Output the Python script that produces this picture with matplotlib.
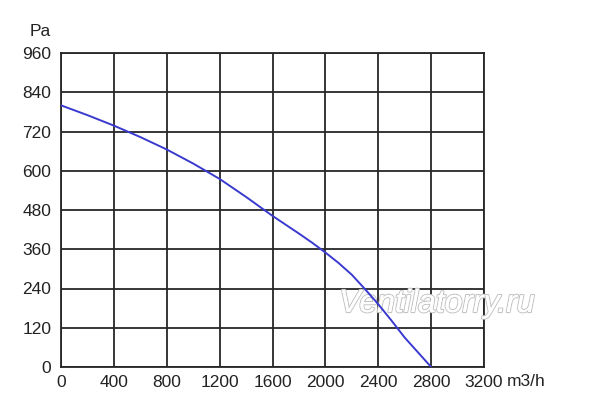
import matplotlib
matplotlib.use("Agg")
import matplotlib.pyplot as plt
import matplotlib.patheffects as pe
import numpy as np

flow = [0, 200, 400, 600, 800, 1000, 1200, 1400, 1600, 1800, 1900, 2000, 2100, 2200, 2300, 2400, 2500, 2600, 2700, 2800]
pressure = [800, 770, 738, 703, 665, 622, 575, 520, 462, 408, 380, 350, 318, 282, 238, 192, 142, 90, 45, 0]
xticks = [0, 400, 800, 1200, 1600, 2000, 2400, 2800, 3200]
yticks = [0, 120, 240, 360, 480, 600, 720, 840, 960]

plt.rcParams['font.family'] = ['Liberation Sans', 'DejaVu Sans']

fig = plt.figure(figsize=(6, 4.12), dpi=100)
ax = fig.add_axes([61/600, 45/412, 423/600, 314/412])
ax.plot(flow, pressure, color='#3a3ad0', lw=1.4, zorder=4)
ax.set_xlim(0, 3200)
ax.set_ylim(0, 960)
ax.set_xticks(xticks)
ax.set_yticks(yticks)
ax.set_xticklabels([str(v) for v in xticks])
ax.set_yticklabels([str(v) for v in yticks])
ax.set_axisbelow(True)
ax.grid(True, color='#262626', lw=1.3)
for s in ax.spines.values():
    s.set_color('#262626')
    s.set_linewidth(1.3)
ax.tick_params(length=0, labelsize=12.5, colors='#222222', pad=6)
ax.tick_params(axis='y', pad=7)

fig.text(40/600, 1 - 31/412, 'Pa', fontsize=12.5, color='#222222', ha='center', va='center')
fig.text(507/600, 1 - 382/412, 'm3/h', fontsize=12.5, color='#222222', ha='left', va='center')

t = ax.text(437/600, 1 - 304/412, 'Ventilatorry.ru', fontsize=23, style='italic',
            color='white', ha='center', va='center', zorder=3,
            transform=fig.transFigure, clip_on=False)
t.set_path_effects([pe.withStroke(linewidth=1.6, foreground='#c4c4c4'), pe.Normal()])

fig.savefig('out.png', dpi=100)
